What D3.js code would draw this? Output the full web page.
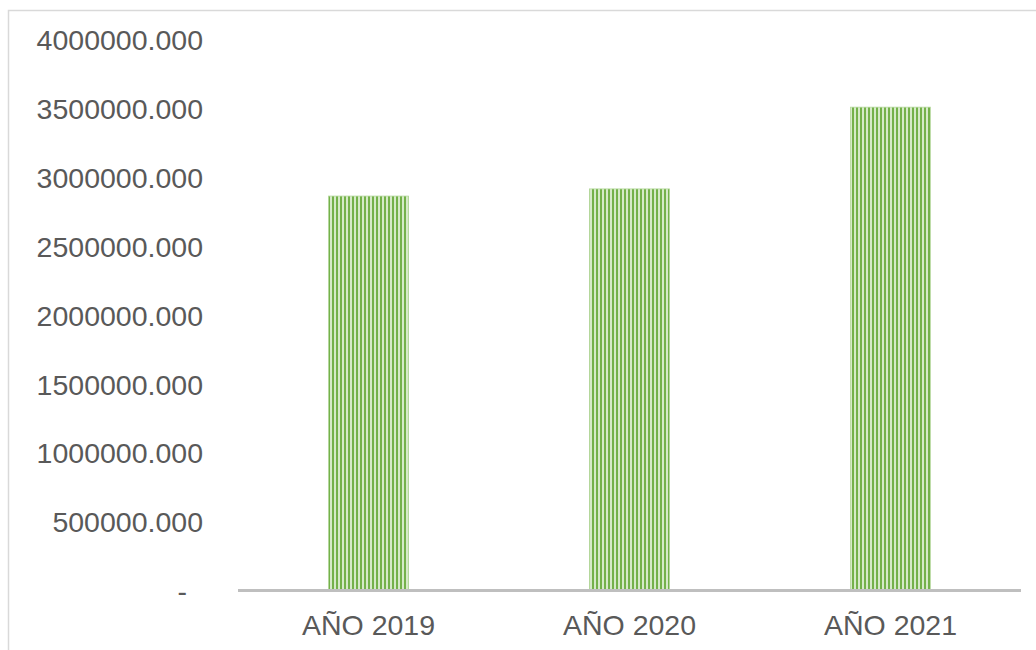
<!DOCTYPE html>
<html>
<head>
<meta charset="utf-8">
<script src="https://cdn.jsdelivr.net/npm/d3@7"></script>
<style>
  html, body { margin: 0; padding: 0; background: #fff; }
  svg { display: block; }
</style>
</head>
<body>
<svg id="chart" width="1036" height="650"></svg>
<script>
const categories = ["AÑO 2019", "AÑO 2020", "AÑO 2021"];
const values = [2866000, 2918000, 3512000];
const tickValues = [0, 500000, 1000000, 1500000, 2000000, 2500000, 3000000, 3500000, 4000000];
const tickLabels = ["-", "500000.000", "1000000.000", "1500000.000", "2000000.000", "2500000.000", "3000000.000", "3500000.000", "4000000.000"];

const svg = d3.select("#chart");
const W = 1036, H = 650;
const font = "'Liberation Sans', Arial, sans-serif";
const textColor = "#595959";

// outer border
svg.append("rect")
  .attr("x", 8.5).attr("y", 10.5)
  .attr("width", W + 20).attr("height", H + 20)
  .attr("fill", "none").attr("stroke", "#d9d9d9").attr("stroke-width", 1.5);

// pattern
const defs = svg.append("defs");
const pat = defs.append("pattern")
  .attr("id", "vstripe").attr("patternUnits", "userSpaceOnUse")
  .attr("width", 4).attr("height", 4);
pat.append("rect").attr("width", 4).attr("height", 4).attr("fill", "#d6eac8");
pat.append("rect").attr("width", 2).attr("height", 4).attr("fill", "#74b14a");

const plot = { left: 238, right: 1021, top: 40, bottom: 590.5 };

const x = d3.scaleBand().domain(categories)
  .range([plot.left, plot.right]).paddingInner(0.693).paddingOuter(0.3465);
const y = d3.scaleLinear().domain([0, 4000000]).range([plot.bottom, plot.top]);

// bars
svg.append("g").selectAll("rect").data(values).join("rect")
  .attr("x", (d, i) => x(categories[i]))
  .attr("y", d => y(d))
  .attr("width", x.bandwidth())
  .attr("height", d => y(0) - y(d))
  .attr("fill", "url(#vstripe)")
  .attr("stroke", "#b5d89c").attr("stroke-width", 0.8);

// y axis
const yAxis = d3.axisLeft(y).tickValues(tickValues)
  .tickSize(0).tickPadding(0)
  .tickFormat((d, i) => tickLabels[i]);
const yg = svg.append("g").attr("transform", "translate(203,0)").call(yAxis);
yg.select(".domain").remove();
yg.selectAll("text")
  .attr("font-family", font).attr("font-size", "28.5px").attr("fill", textColor)
  .attr("dy", "0.35em")
  .attr("dx", d => d === 0 ? -16 : 0);

// x axis line
const xAxis = d3.axisBottom(x).tickSize(0).tickPadding(0);
const xg = svg.append("g").attr("transform", `translate(0,${plot.bottom})`).call(xAxis);
xg.select(".domain").attr("stroke", "#bfbfbf").attr("stroke-width", 3)
  .attr("d", `M${plot.left},0H${plot.right}`);
xg.selectAll("text")
  .attr("font-family", font).attr("font-size", "28.5px").attr("fill", textColor)
  .attr("y", 44).attr("dy", 0);
</script>
</body>
</html>
